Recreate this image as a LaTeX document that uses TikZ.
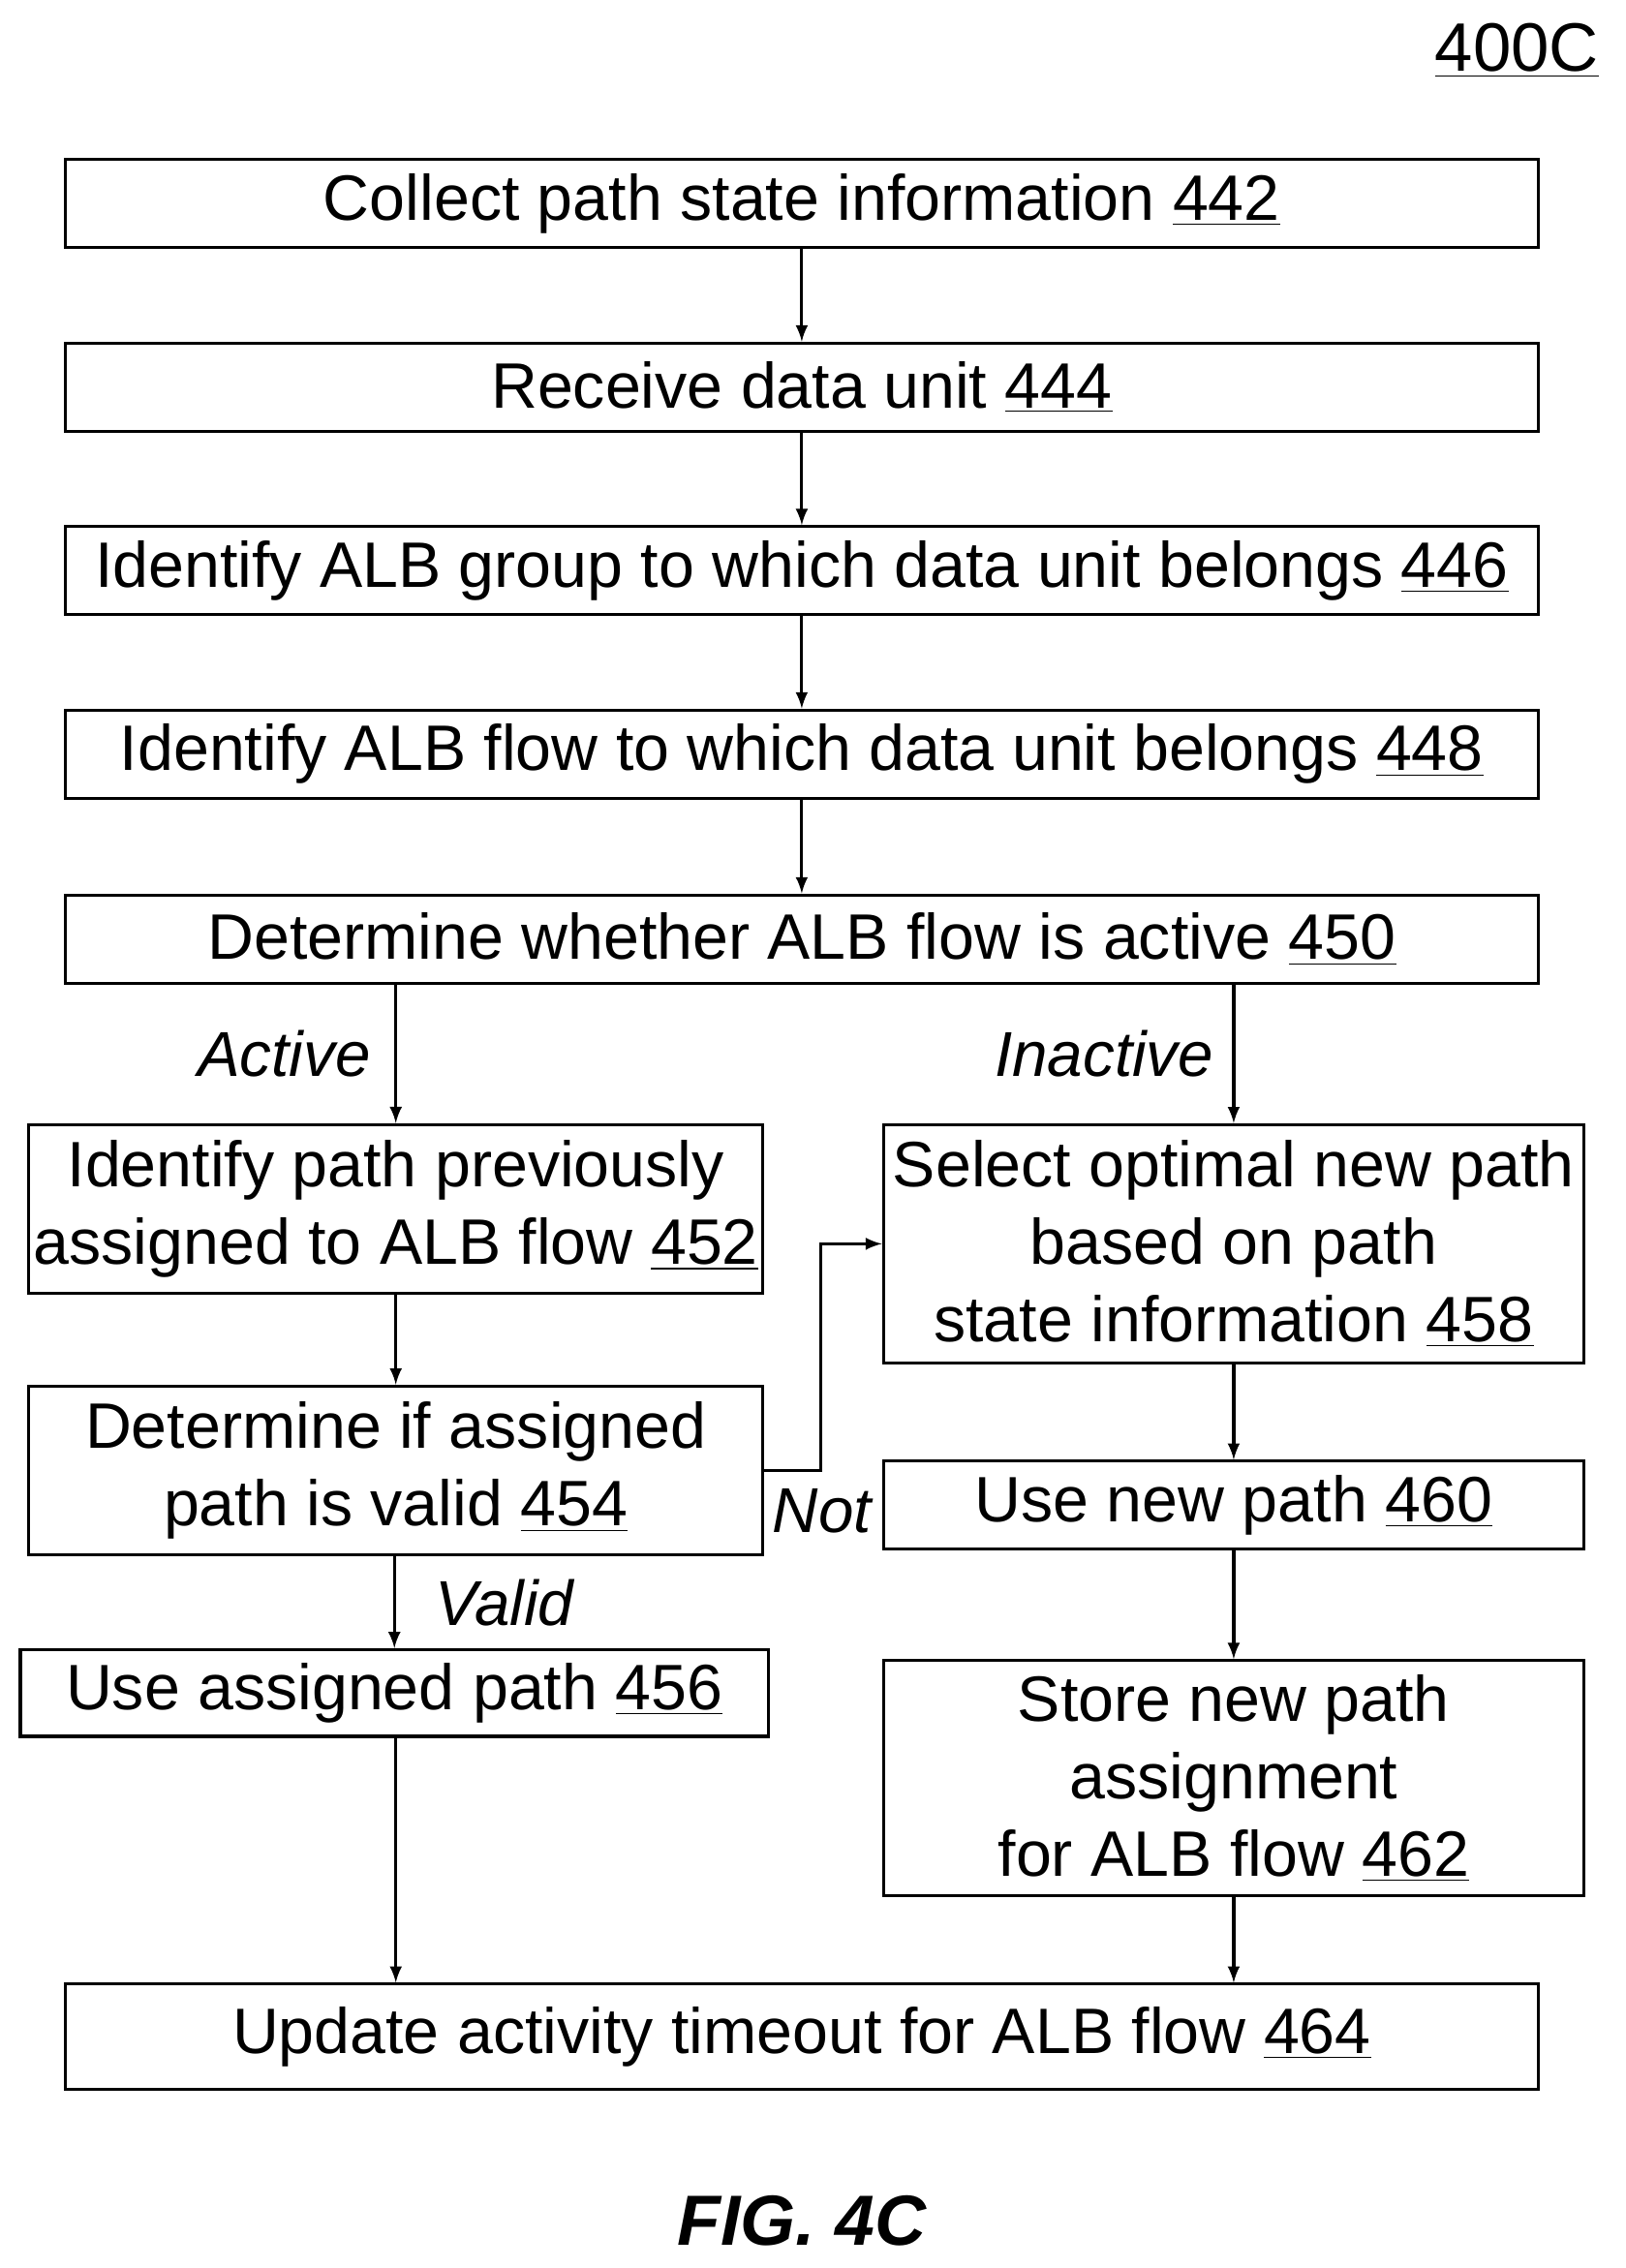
\documentclass[tikz,border=0pt]{standalone}
\usepackage{fontspec}
\setmainfont{Liberation Sans}
\usetikzlibrary{positioning}
\begin{document}
\begin{tikzpicture}[x=0.02cm, y=-0.02cm,
            box/.style={rectangle, draw=black, line width=1.2pt, inner sep=0pt, align=center, font=\fontsize{25.3}{30.5}\selectfont},
            wide/.style={box, minimum width=20.4cm, minimum height=1.22cm},
            lbl/.style={font=\fontsize{25}{29}\selectfont\itshape},
            arr/.style={-latex, line width=1.2pt}
        ]
            \useasboundingbox (0,0) rectangle (1125,1570);
            \node[font=\fontsize{27}{30}\selectfont] (fig) at (1050,35) {\underline{400C}};

            \node[wide](s442) at (555,141){Collect path state information \underline{442}};
            \node[wide](s444) at (555,268){Receive data unit \underline{444}};
            \node[wide](s446) at (555,395){Identify ALB group to which data unit belongs \underline{446}};
            \node[wide](s448) at (555,522){Identify ALB flow to which data unit belongs \underline{448}};
            \node[wide](s450) at (555,650){Determine whether ALB flow is active \underline{450}};

            \node[box, minimum width=10.16cm, minimum height=2.34cm](s452) at (274,837){Identify path previously\\assigned to ALB flow \underline{452}};
            \node[box, minimum width=10.16cm, minimum height=2.34cm](s454) at (274,1018){Determine if assigned\\path is valid \underline{454}};
            \node[box, minimum width=10.36cm, minimum height=1.2cm](s456) at (273,1172){Use assigned path \underline{456}};
            \node[box, minimum width=9.7cm, minimum height=3.3cm](s458) at (854,861){Select optimal new path\\based on path\\state information \underline{458}};
            \node[box, minimum width=9.7cm, minimum height=1.22cm](s460) at (854,1042){Use new path \underline{460}};
            \node[box, minimum width=9.7cm, minimum height=3.26cm](s462) at (854,1231){Store new path\\assignment\\for ALB flow \underline{462}};
            \node[wide, minimum height=1.46cm](s464) at (555,1410){Update activity timeout for ALB flow \underline{464}};

            \coordinate (bend) at (568,1018);

            \draw[arr] (s442) -- (s444);
            \draw[arr] (s444) -- (s446);
            \draw[arr] (s446) -- (s448);
            \draw[arr] (s448) -- (s450);
            \draw[arr] (s450.south -| s452) -- node[lbl, left=6pt]{Active} (s452);
            \draw[arr] (s450.south -| s458) -- node[lbl, left=4pt]{Inactive} (s458);
            \draw[arr] (s452) -- (s454);
            \draw[arr] (s454.south -| s456) -- node[lbl, right=12pt]{Valid} (s456);
            \draw[arr] (s454.east) -- (bend) -- (bend |- 0,861) -- (s458.west |- 0,861);
            \node[lbl] (not) at (569,1046) {Not};
            \draw[arr] (s458) -- (s460);
            \draw[arr] (s460) -- (s462);
            \draw[arr] (s462) -- (s464.north -| s462);
            \draw[arr] (s456.south -| s452) -- (s464.north -| s452);

            \node[font=\fontsize{28}{32}\selectfont\bfseries\itshape] (cap) at (555,1537) {FIG. 4C};
        \end{tikzpicture}
\end{document}
